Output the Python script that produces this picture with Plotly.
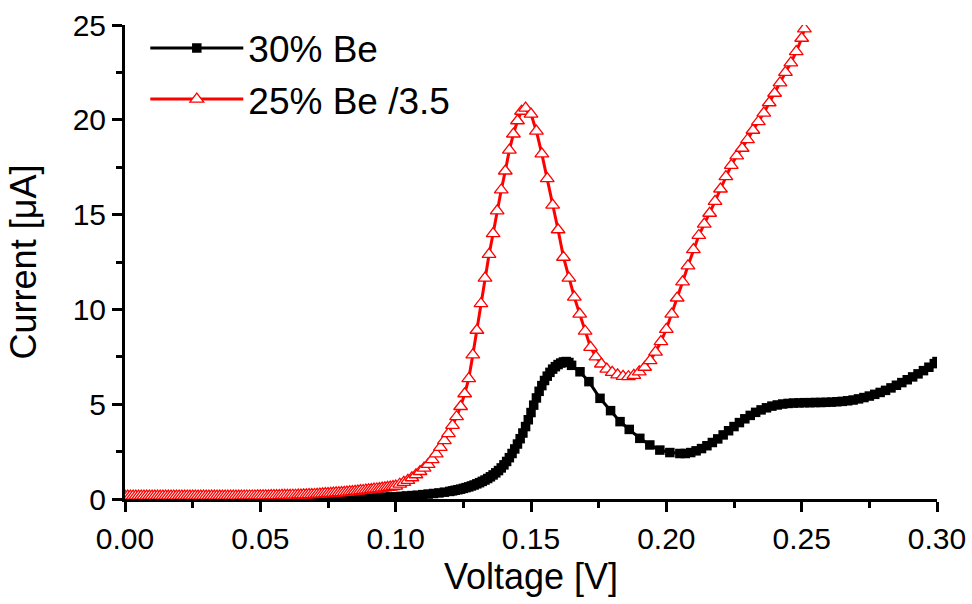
import plotly.graph_objects as go

# ---- data: 30% Be ----
be30_v = [
    0.000, 0.002, 0.004, 0.006, 0.008, 0.010, 0.012, 0.014, 0.016, 0.018,
    0.020, 0.022, 0.024, 0.026, 0.028, 0.030, 0.032, 0.034, 0.036, 0.038,
    0.040, 0.042, 0.044, 0.046, 0.048, 0.050,
    0.052, 0.054, 0.056, 0.058, 0.060, 0.062, 0.064, 0.066, 0.068, 0.070,
    0.072, 0.074, 0.076, 0.078, 0.080, 0.082, 0.084, 0.086, 0.088,
    0.090, 0.092, 0.094, 0.096, 0.098, 0.100, 0.102, 0.104, 0.106, 0.108,
    0.110, 0.112, 0.114, 0.116, 0.118, 0.120,
    0.121, 0.122, 0.123, 0.124, 0.125, 0.126, 0.127, 0.128, 0.129, 0.130,
    0.131, 0.132, 0.133, 0.134, 0.135, 0.136, 0.137, 0.138, 0.139, 0.140,
    0.141, 0.142, 0.143, 0.144, 0.145, 0.146, 0.147, 0.148, 0.149, 0.150,
    0.151, 0.152, 0.153, 0.154, 0.155, 0.156, 0.157, 0.158, 0.159, 0.160,
    0.161, 0.162, 0.163, 0.164, 0.165,
    0.1681, 0.1714, 0.1755, 0.1794, 0.1829, 0.1863, 0.1902, 0.1939, 0.1976, 0.2013, 0.2050,
    0.207, 0.209, 0.211, 0.213, 0.215, 0.217, 0.219, 0.221, 0.223, 0.225,
    0.227, 0.229, 0.231, 0.233, 0.235, 0.237, 0.239, 0.241, 0.243, 0.245,
    0.247, 0.249, 0.251, 0.253, 0.255, 0.257, 0.259, 0.261, 0.263, 0.265,
    0.267, 0.269, 0.271, 0.273, 0.275, 0.277, 0.279, 0.281, 0.283, 0.285,
    0.287, 0.289, 0.291, 0.293, 0.295, 0.297, 0.299, 0.300,
]
be30_i = [
    0.04, 0.04, 0.04, 0.04, 0.04, 0.04, 0.04, 0.04, 0.04, 0.04,
    0.04, 0.04, 0.04, 0.04, 0.04, 0.04, 0.04, 0.04, 0.04, 0.04,
    0.04, 0.04, 0.04, 0.04, 0.04, 0.04,
    0.04, 0.04, 0.04, 0.05, 0.05, 0.05, 0.05, 0.05, 0.05, 0.06,
    0.06, 0.06, 0.06, 0.06, 0.06, 0.06, 0.07, 0.07, 0.07,
    0.07, 0.08, 0.09, 0.10, 0.11, 0.12, 0.14, 0.16, 0.18, 0.20,
    0.23, 0.26, 0.29, 0.32, 0.36, 0.40,
    0.43, 0.46, 0.49, 0.52, 0.56, 0.60, 0.64, 0.69, 0.74, 0.80,
    0.86, 0.93, 1.00, 1.08, 1.17, 1.27, 1.38, 1.50, 1.64, 1.80,
    1.98, 2.18, 2.40, 2.64, 2.90, 3.18, 3.48, 3.82, 4.18, 4.56,
    4.95, 5.33, 5.68, 5.98, 6.25, 6.48, 6.68, 6.85, 6.98, 7.09,
    7.17, 7.23, 7.25, 7.20, 7.05,
    6.71, 6.19, 5.31, 4.66, 4.08, 3.67, 3.20, 2.85, 2.58, 2.45, 2.40,
    2.40, 2.45, 2.54, 2.66, 2.81, 2.98, 3.17, 3.38, 3.60, 3.82,
    4.03, 4.23, 4.41, 4.57, 4.70, 4.81, 4.90, 4.96, 5.01, 5.04,
    5.06, 5.07, 5.08, 5.08, 5.09, 5.09, 5.10, 5.11, 5.13, 5.15,
    5.18, 5.22, 5.28, 5.35, 5.43, 5.52, 5.62, 5.73, 5.86, 6.00,
    6.14, 6.29, 6.44, 6.60, 6.77, 6.95, 7.14, 7.25,
]

# ---- data: 25% Be, divided by 3.5 ----
be25_v = [
    0.000, 0.001, 0.002, 0.003, 0.004, 0.005, 0.006, 0.007, 0.008, 0.009,
    0.010, 0.011, 0.012, 0.013, 0.014, 0.015, 0.016, 0.017, 0.018, 0.019,
    0.020, 0.021, 0.022, 0.023, 0.024, 0.025, 0.026, 0.027, 0.028, 0.029,
    0.030, 0.031, 0.032, 0.033, 0.034, 0.035, 0.036, 0.037, 0.038, 0.039,
    0.040, 0.041, 0.042, 0.043, 0.044, 0.045, 0.046, 0.047, 0.048, 0.049,
    0.050, 0.051, 0.052, 0.053, 0.054, 0.055, 0.056, 0.057, 0.058, 0.059,
    0.060, 0.061, 0.062, 0.063, 0.064, 0.065, 0.066, 0.067, 0.068, 0.069,
    0.070, 0.071, 0.072, 0.073, 0.074, 0.075, 0.076, 0.077, 0.078, 0.079,
    0.080, 0.081, 0.082, 0.083, 0.084, 0.085, 0.086, 0.087, 0.088, 0.089,
    0.090, 0.091, 0.092, 0.093, 0.094, 0.095, 0.096, 0.097, 0.098, 0.099,
    0.1000, 0.1015, 0.1030, 0.1045, 0.1060, 0.1075, 0.1090, 0.1105, 0.1120, 0.1135,
    0.1150, 0.1165, 0.1180, 0.1195, 0.1210, 0.1225, 0.1240, 0.1255, 0.1270, 0.1285,
    0.1300, 0.1315, 0.1330, 0.1345, 0.1360, 0.1375, 0.1390, 0.1405, 0.1420, 0.1435,
    0.1450, 0.1465, 0.1480,
    0.150, 0.152, 0.154, 0.156, 0.158, 0.160, 0.162, 0.164, 0.166, 0.168,
    0.170, 0.172, 0.174, 0.176, 0.178, 0.180, 0.182, 0.184, 0.186, 0.188,
    0.190, 0.192, 0.194, 0.196, 0.198, 0.200, 0.202, 0.204, 0.206, 0.208,
    0.210, 0.212, 0.214, 0.216, 0.218, 0.220, 0.222, 0.224, 0.226, 0.228,
    0.230, 0.232, 0.234, 0.236, 0.238, 0.240, 0.242, 0.244, 0.246, 0.248,
    0.250, 0.251,
]
be25_i = [
    0.15, 0.15, 0.15, 0.15, 0.15, 0.15, 0.15, 0.15, 0.15, 0.15,
    0.15, 0.15, 0.15, 0.15, 0.15, 0.15, 0.15, 0.15, 0.15, 0.15,
    0.15, 0.15, 0.15, 0.15, 0.15, 0.15, 0.15, 0.15, 0.15, 0.15,
    0.15, 0.15, 0.15, 0.15, 0.15, 0.15, 0.15, 0.15, 0.15, 0.15,
    0.15, 0.15, 0.15, 0.15, 0.16, 0.16, 0.16, 0.16, 0.16, 0.17,
    0.17, 0.17, 0.17, 0.17, 0.18, 0.18, 0.18, 0.18, 0.19, 0.19,
    0.19, 0.19, 0.20, 0.20, 0.21, 0.21, 0.22, 0.22, 0.23, 0.23,
    0.24, 0.25, 0.26, 0.27, 0.28, 0.29, 0.30, 0.31, 0.32, 0.33,
    0.34, 0.35, 0.36, 0.38, 0.39, 0.41, 0.42, 0.44, 0.45, 0.47,
    0.48, 0.50, 0.52, 0.53, 0.55, 0.57, 0.59, 0.61, 0.63, 0.65,
    0.68, 0.78, 0.88, 0.98, 1.12, 1.28, 1.45, 1.63, 1.83, 2.08,
    2.38, 2.72, 3.08, 3.45, 3.88, 4.34, 4.88, 5.55, 6.35, 7.60,
    8.90, 10.30, 11.65, 12.90, 14.00, 15.20, 16.30, 17.30, 18.40, 19.25,
    19.95, 20.45, 20.62,
    20.30, 19.40, 18.20, 16.90, 15.50, 14.20, 12.75, 11.65, 10.65, 9.75,
    8.85, 8.00, 7.50, 7.12, 6.85, 6.68, 6.55, 6.47, 6.45, 6.52,
    6.71, 6.95, 7.30, 7.75, 8.30, 8.95, 9.75, 10.60, 11.45, 12.30,
    13.15, 13.90, 14.50, 15.07, 15.70, 16.35, 17.00, 17.60, 18.10, 18.50,
    18.95, 19.45, 19.90, 20.35, 20.90, 21.40, 21.95, 22.50, 23.00, 23.60,
    24.30, 24.80,
]

x_ticks = [0.00, 0.05, 0.10, 0.15, 0.20, 0.25, 0.30]
y_ticks = [0, 5, 10, 15, 20, 25]

assert len(be30_v) == len(be30_i)
assert len(be25_v) == len(be25_i)

FONT = "Liberation Sans, Arial, sans-serif"

fig = go.Figure()
fig.add_trace(go.Scatter(
    x=be30_v, y=be30_i, mode="lines+markers", name="30% Be",
    line=dict(color="black", width=3),
    marker=dict(symbol="square", size=9.5, color="black"),
))
fig.add_trace(go.Scatter(
    x=be25_v, y=be25_i, mode="lines+markers", name="25% Be /3.5",
    line=dict(color="#ff0000", width=3),
    marker=dict(symbol="triangle-up", size=12, color="white",
                line=dict(width=1.3, color="#ff0000")),
))

axis_common = dict(
    showline=True, linewidth=3, linecolor="black", mirror=False,
    showgrid=False, zeroline=False,
    ticks="outside", ticklen=10, tickwidth=3, tickcolor="black",
    tickfont=dict(family=FONT, size=30, color="black"),
    title_font=dict(family=FONT, size=36, color="black"),
)

fig.update_xaxes(
    **axis_common, range=[0, 0.30], tickvals=x_ticks,
    ticktext=[f"{v:.2f}" for v in x_ticks],
    minor=dict(dtick=0.025, ticks="outside", ticklen=6, tickwidth=3, tickcolor="black"),
    ticklabelstandoff=1,
    title_text="Voltage [V]", title_standoff=10,
)
fig.update_yaxes(
    **axis_common, range=[0, 25], tickvals=y_ticks,
    minor=dict(dtick=2.5, ticks="outside", ticklen=6, tickwidth=3, tickcolor="black"),
    title_text="Current [μA]", title_standoff=26,
)

fig.update_layout(
    width=972, height=604,
    margin=dict(l=125, r=35, t=25, b=105, autoexpand=False),
    paper_bgcolor="white", plot_bgcolor="white",
    showlegend=True,
    legend=dict(
        x=0.025, y=1.016, xanchor="left", yanchor="top",
        bgcolor="rgba(0,0,0,0)", borderwidth=0,
        font=dict(family=FONT, size=37, color="black"),
        itemwidth=93, tracegroupgap=0,
    ),
)

fig.write_html("out.html")
